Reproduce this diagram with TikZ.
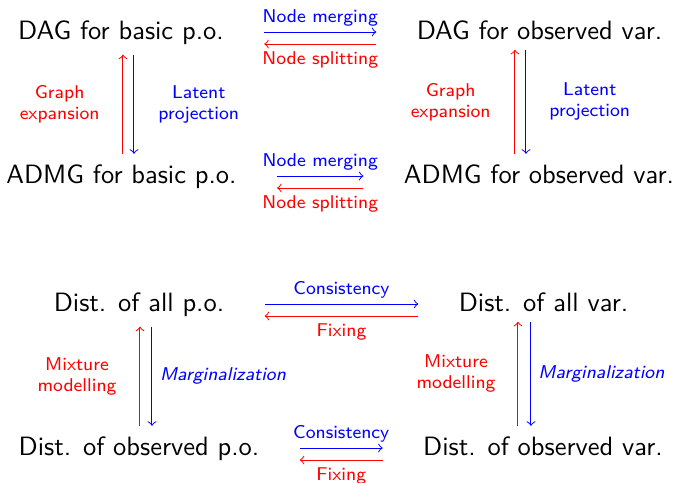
\documentclass[tikz,border=0pt]{standalone}
\usetikzlibrary{calc}
\begin{document}
\begin{tikzpicture}[x=0.4pt,y=-0.4pt,
  main/.style={font=\sffamily\fontsize{10.6}{12.5}\selectfont, inner sep=4pt, anchor=base},
  lbl/.style={font=\sffamily\fontsize{7.4}{8.4}\selectfont, inner sep=0pt, anchor=base},
  lbl2/.style={font=\sffamily\fontsize{7.4}{8.4}\selectfont, inner sep=0pt, align=center},
  arr/.style={->, line width=0.4pt},
  sh/.style={shorten <=12pt, shorten >=12pt}]
\useasboundingbox (0,0) rectangle (676,482);
% main nodes
\node[main] (dagb)  at (121,39)   {DAG for basic p.o.};
\node[main] (dago)  at (539.5,39) {DAG for observed var.};
\node[main] (admgb) at (121.5,183){ADMG for basic p.o.};
\node[main] (admgo) at (539,183)  {ADMG for observed var.};
\node[main] (dap)   at (139,311)  {Dist. of all p.o.};
\node[main] (dav)   at (543.5,311){Dist. of all var.};
\node[main] (dop)   at (139,455)  {Dist. of observed p.o.};
\node[main] (dov)   at (543,455)  {Dist. of observed var.};
% horizontal arrows
\foreach \a/\b/\top/\bot in {dagb/dago/Node merging/Node splitting,
  admgb/admgo/Node merging/Node splitting,
  dap/dav/Consistency/Fixing,
  dop/dov/Consistency/Fixing}{
  \draw[arr,blue,sh] ($(\a.base east)+(0,-7)$) -- ($(\b.base west)+(0,-7)$)
    node[midway,lbl,text=blue,yshift=4pt] {\top};
  \draw[arr,red,sh] ($(\b.base west)+(0,5)$) -- ($(\a.base east)+(0,5)$)
    node[midway,lbl,text=red,yshift=-8pt] {\bot};
}
% vertical arrows, top
\draw[arr,red] ($(dagb.south |- admgb.north)+(2,0)$) -- ($(dagb.south)+(2,0)$)
  node[midway,lbl2,text=red,anchor=east,xshift=-9.2pt] {Graph\\expansion};
\draw[arr,blue] ($(dagb.south)+(13,0)$) -- ($(dagb.south |- admgb.north)+(13,0)$)
  node[midway,lbl2,text=blue,anchor=west,xshift=9.6pt] {Latent\\projection};
\draw[arr,red] ($(dago.south |- admgo.north)+(-24.5,0)$) -- ($(dago.south)+(-24.5,0)$)
  node[midway,lbl2,text=red,anchor=east,xshift=-9.6pt] {Graph\\expansion};
\draw[arr,blue] ($(dago.south)+(-13.5,0)$) -- ($(dago.south |- admgo.north)+(-13.5,0)$)
  node[midway,lbl2,text=blue,anchor=west,xshift=9.2pt] {Latent\\projection};
% vertical arrows, bottom
\draw[arr,red] ($(dap.south |- dop.north)+(1,0)$) -- ($(dap.south)+(1,0)$)
  node[midway,lbl2,text=red,anchor=east,xshift=-9.2pt] {Mixture\\modelling};
\draw[arr,blue] ($(dap.south)+(13,0)$) -- ($(dap.south |- dop.north)+(13,0)$)
  node[midway,lbl2,text=blue,anchor=west,xshift=3pt] {\itshape Marginalization};
\draw[arr,red] ($(dav.south |- dov.north)+(-25.5,0)$) -- ($(dav.south)+(-25.5,0)$)
  node[midway,lbl2,text=red,anchor=east,xshift=-8.8pt] {Mixture\\modelling};
\draw[arr,blue] ($(dav.south)+(-12.5,0)$) -- ($(dav.south |- dov.north)+(-12.5,0)$)
  node[midway,lbl2,text=blue,anchor=west,xshift=2.8pt] {\itshape Marginalization};
\end{tikzpicture}
\end{document}
